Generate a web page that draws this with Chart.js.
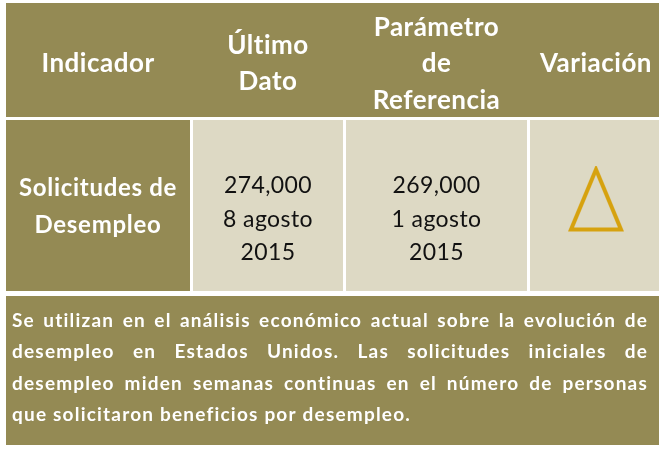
<!DOCTYPE html>
<html>
<head>
<meta charset="utf-8">
<script src="https://cdn.jsdelivr.net/npm/chart.js@4"></script>
<style>
  html, body { margin: 0; padding: 0; background: #ffffff; }
  #wrap { width: 659px; height: 451px; position: relative; }
</style>
</head>
<body>
<div id="wrap"><canvas id="chart-indicator"></canvas></div>
<script>
// Indicator table: data
const headers = [["Indicador"], ["Último", "Dato"], ["Parámetro", "de", "Referencia"], ["Variación"]];
const indicatorName = ["Solicitudes de", "Desempleo"];
const lastValue = [274000];
const lastDate = ["8 agosto", "2015"];
const refValue = [269000];
const refDate = ["1 agosto", "2015"];
const variation = ["up"];
const noteLines = [
  "Se utilizan en el análisis económico actual sobre la evolución de",
  "desempleo en Estados Unidos. Las solicitudes iniciales de",
  "desempleo miden semanas continuas en el número de personas",
  "que solicitaron beneficios por desempleo.",
];

// layout (table units, same as canvas px)
const colLeft = [6, 193, 346, 530];
const colRight = [190, 343, 527, 662];
const rowTop = [3, 120, 296];
const rowBottom = [117, 291, 445];
const noteLeft = 12;
const noteRight = 648;

const OLIVE = "#948a54";
const BEIGE = "#ddd9c4";
const GOLD = "#d6a20f";
const FONT = "Lato, 'Open Sans', sans-serif";

const colCenter = (c) => (colLeft[c] + colRight[c]) / 2;
const rowCenter = (r) => (rowTop[r] + rowBottom[r]) / 2;

function triangleMarker() {
  const cv = document.createElement("canvas");
  cv.width = 58;
  cv.height = 80;
  const g = cv.getContext("2d");
  g.strokeStyle = GOLD;
  g.lineWidth = 4;
  g.lineJoin = "miter";
  g.beginPath();
  g.moveTo(29, 4);
  g.lineTo(4, 64);
  g.lineTo(54, 64);
  g.closePath();
  g.stroke();
  return cv;
}

const cellsPlugin = {
  id: "cells",
  beforeDatasetsDraw(chart) {
    const { ctx, scales } = chart;
    const x = scales.x, y = scales.y;
    const rect = (x0, y0, x1, y1, color) => {
      const px0 = x.getPixelForValue(x0), px1 = x.getPixelForValue(x1);
      const py0 = y.getPixelForValue(y0), py1 = y.getPixelForValue(y1);
      ctx.fillStyle = color;
      ctx.fillRect(px0, py0, px1 - px0, py1 - py0);
    };
    ctx.save();
    // header row
    rect(colLeft[0], rowTop[0], colRight[3], rowBottom[0], OLIVE);
    // data row
    for (let c = 0; c < 4; c += 1) {
      rect(colLeft[c], rowTop[1], colRight[c], rowBottom[1], c === 0 ? OLIVE : BEIGE);
    }
    // note row
    rect(colLeft[0], rowTop[2], colRight[3], rowBottom[2], OLIVE);
    ctx.restore();
  },
};

function drawLines(ctx, lines, cx, firstBaseline, step) {
  lines.forEach((line, i) => {
    ctx.fillText(line, cx, firstBaseline + i * step);
  });
}

const textPlugin = {
  id: "tableText",
  afterDatasetsDraw(chart) {
    const { ctx, scales } = chart;
    const x = scales.x, y = scales.y;
    ctx.save();
    ctx.textAlign = "center";
    ctx.textBaseline = "alphabetic";

    // header
    ctx.fillStyle = "#ffffff";
    ctx.font = "bold 26px " + FONT;
    ctx.letterSpacing = "0.5px";
    const headStep = 36.5;
    headers.forEach((lines, c) => {
      const cx = x.getPixelForValue(colCenter(c));
      const mid = y.getPixelForValue(rowCenter(0));
      const first = mid + 12 - ((lines.length - 1) * headStep) / 2;
      drawLines(ctx, lines, cx, first, headStep);
    });

    // data row
    const bodyStep = 33.5;
    ctx.font = "bold 24px " + FONT;
    ctx.letterSpacing = "0.7px";
    {
      const cx = x.getPixelForValue(colCenter(0));
      const mid = y.getPixelForValue(rowCenter(1));
      drawLines(ctx, indicatorName, cx, mid - 10, 37);
    }
    ctx.fillStyle = "#111111";
    ctx.font = "23px " + FONT;
    ctx.letterSpacing = "0.4px";
    [[lastValue[0], lastDate], [refValue[0], refDate]].forEach(([v, d], i) => {
      const cx = x.getPixelForValue(colCenter(i + 1));
      const mid = y.getPixelForValue(rowCenter(1));
      const lines = [v.toLocaleString("en-US")].concat(d);
      drawLines(ctx, lines, cx, mid - 12.5, bodyStep);
    });

    // note, justified
    ctx.fillStyle = "#ffffff";
    ctx.font = "bold 19px " + FONT;
    ctx.letterSpacing = "1.2px";
    ctx.textAlign = "left";
    const left = x.getPixelForValue(noteLeft);
    const right = x.getPixelForValue(noteRight);
    const base0 = y.getPixelForValue(rowTop[2]) + 31;
    noteLines.forEach((line, i) => {
      const by = base0 + i * 31.3;
      const words = line.split(" ");
      if (i === noteLines.length - 1) {
        ctx.fillText(line, left, by);
        return;
      }
      const widths = words.map((w) => ctx.measureText(w).width);
      const total = widths.reduce((a, b) => a + b, 0);
      const gap = (right - left - total) / (words.length - 1);
      let cursor = left;
      words.forEach((w, k) => {
        ctx.fillText(w, cursor, by);
        cursor += widths[k] + gap;
      });
    });
    ctx.restore();
  },
};

const ctx = document.getElementById("chart-indicator").getContext("2d");
new Chart(ctx, {
  type: "scatter",
  data: {
    datasets: [
      {
        label: "Variación",
        data: variation.map(() => ({ x: colCenter(3), y: rowCenter(1) })),
        pointStyle: triangleMarker(),
        pointRadius: 30,
        pointHoverRadius: 30,
      },
    ],
  },
  options: {
    responsive: true,
    maintainAspectRatio: false,
    animation: false,
    events: [],
    layout: { padding: 0, autoPadding: false },
    plugins: {
      legend: { display: false },
      tooltip: { enabled: false },
    },
    scales: {
      x: { type: "linear", min: 0, max: 659, display: false },
      y: { type: "linear", min: 0, max: 451, reverse: true, display: false },
    },
  },
  plugins: [cellsPlugin, textPlugin],
});
</script>
</body>
</html>
